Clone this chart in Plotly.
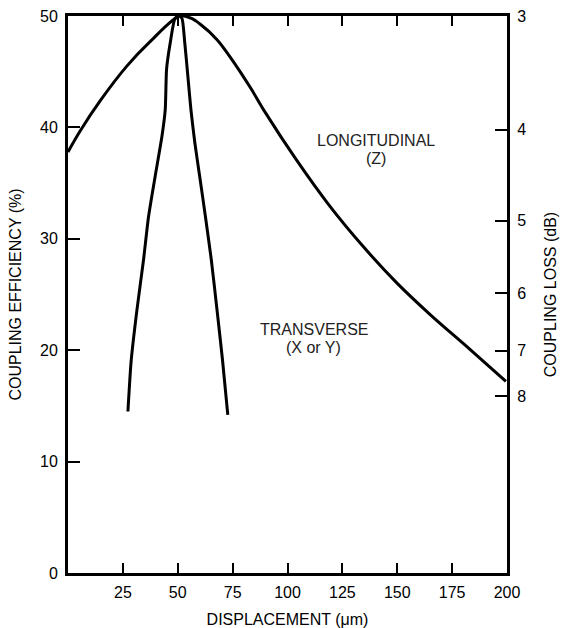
import plotly.graph_objects as go

# Longitudinal (Z) displacement curve
long_x = [0, 5.6, 14.7, 26.8, 37.4, 51.0, 56.0, 60.0, 67.8, 75.0, 83.0, 90.0, 104.0,
          119.0, 134.5, 150.0, 165.0, 183.0, 199.5]
long_y = [37.8, 39.7, 42.4, 45.5, 47.7, 50.0, 49.8, 49.3, 47.9, 46.0, 43.6, 41.3, 37.1,
          33.0, 29.3, 26.0, 23.2, 20.1, 17.2]

# Transverse (X or Y) displacement curve
trans_x = [27.3, 28.8, 31.4, 34.4, 36.7, 39.7, 42.8, 44.3, 44.9, 46.5, 48.8, 50.5,
           51.9, 53.2, 54.6, 56.0, 57.8, 60.0, 62.6, 65.3, 67.9, 70.4, 72.8]
trans_y = [14.5, 19.1, 23.6, 28.1, 32.0, 35.6, 39.2, 41.6, 45.2, 47.5, 49.8, 50.0,
           49.8, 47.6, 44.6, 41.6, 38.6, 35.6, 32.0, 28.1, 23.6, 19.1, 14.2]

x_ticks = [25, 50, 75, 100, 125, 150, 175, 200]
eff_ticks = [0, 10, 20, 30, 40, 50]
loss_db_ticks = [3, 4, 5, 6, 7, 8]
loss_pos = [min(50.0, 100 * 10 ** (-d / 10)) for d in loss_db_ticks]

FONT = "Liberation Sans, Arial, Helvetica, sans-serif"

fig = go.Figure()
fig.add_trace(go.Scatter(x=long_x, y=long_y, mode="lines",
                         line=dict(color="black", width=3, shape="spline", smoothing=1.0),
                         showlegend=False, hoverinfo="skip"))
fig.add_trace(go.Scatter(x=trans_x, y=trans_y, mode="lines",
                         line=dict(color="black", width=3, shape="spline", smoothing=0.6),
                         showlegend=False, hoverinfo="skip"))
# invisible trace to anchor secondary axis
fig.add_trace(go.Scatter(x=[0], y=[0], yaxis="y2", mode="markers",
                         marker=dict(opacity=0), showlegend=False, hoverinfo="skip"))

ann_font = dict(family=FONT, size=16, color="#222")
fig.add_annotation(x=140.5, y=38.8, text="LONGITUDINAL", showarrow=False, font=ann_font)
fig.add_annotation(x=140.5, y=37.2, text="(Z)", showarrow=False, font=ann_font)
fig.add_annotation(x=112, y=21.9, text="TRANSVERSE", showarrow=False, font=ann_font)
fig.add_annotation(x=112, y=20.2, text="(X or Y)", showarrow=False, font=ann_font)

fig.update_layout(
    width=561, height=628,
    margin=dict(l=68, r=54, t=16, b=55),
    paper_bgcolor="white", plot_bgcolor="white",
    font=dict(family=FONT, color="black"),
    xaxis=dict(range=[0, 200], tickvals=x_ticks, ticks="inside", ticklen=10, tickwidth=2,
               tickcolor="black", showline=True, linecolor="black", linewidth=3, mirror="ticks",
               showgrid=False, zeroline=False, tickfont=dict(size=16), ticklabelstandoff=3,
               automargin=False,
               title=dict(text="DISPLACEMENT (μm)", font=dict(size=16), standoff=14)),
    yaxis=dict(range=[0, 50], tickvals=eff_ticks, ticks="inside", ticklen=12, tickwidth=2,
               tickcolor="black", showline=True, linecolor="black", linewidth=3,
               showgrid=False, zeroline=False, tickfont=dict(size=16), ticklabelstandoff=4,
               automargin=False,
               title=dict(text="COUPLING EFFICIENCY (%)", font=dict(size=16), standoff=15)),
    yaxis2=dict(range=[0, 50], overlaying="y", side="right", tickvals=loss_pos,
                ticktext=[str(d) for d in loss_db_ticks], ticks="inside", ticklen=12, tickwidth=2,
                tickcolor="black", showline=True, linecolor="black", linewidth=3,
                showgrid=False, zeroline=False, tickfont=dict(size=16), ticklabelstandoff=4,
                automargin=False,
                title=dict(text="COUPLING LOSS (dB)", font=dict(size=16), standoff=20)),
)

fig.write_html("out.html")
